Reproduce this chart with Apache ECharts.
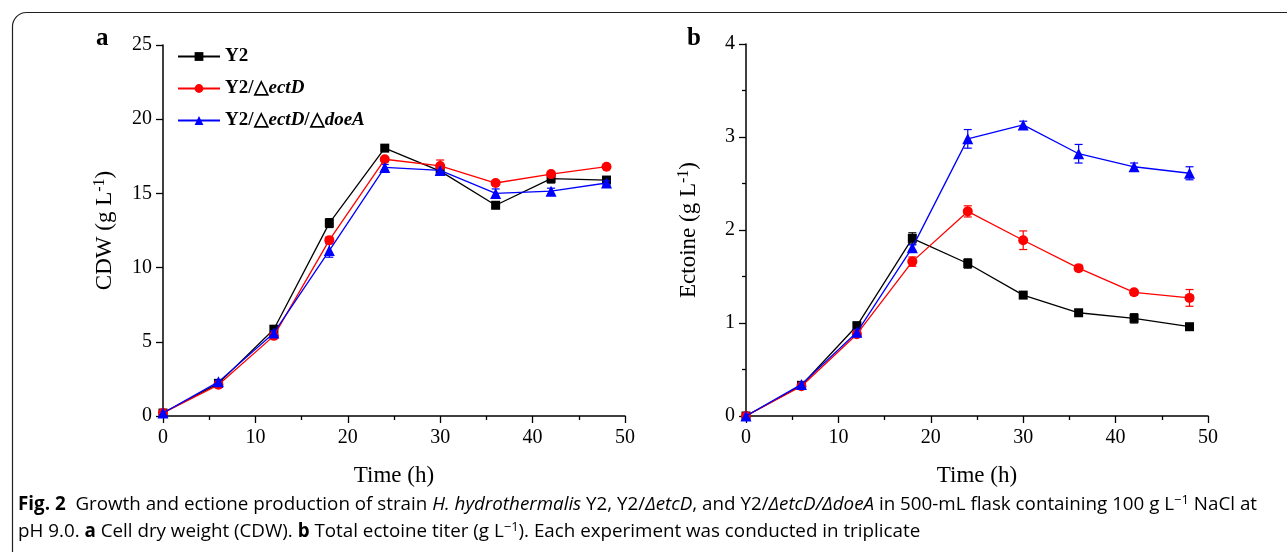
<!DOCTYPE html>
<html>
<head>
<meta charset="utf-8">
<script src="https://cdn.jsdelivr.net/npm/echarts@6/dist/echarts.min.js"></script>
<style>
html,body{margin:0;padding:0;background:#fff;}
#c{width:1287px;height:552px;}
</style>
</head>
<body>
<div id="c"></div>
<script>
// ---- data ----
var time = [0, 6, 12, 18, 24, 30, 36, 42, 48];
var seriesNames = ['Y2', 'Y2/△ectD', 'Y2/△ectD/△doeA'];

var cdwY2   = [0.2, 2.2, 5.85, 13.0, 18.05, 16.5, 14.2, 16.0, 15.9];
var cdwEctD = [0.2, 2.1, 5.4, 11.85, 17.3, 16.85, 15.7, 16.3, 16.8];
var cdwDoeA = [0.2, 2.3, 5.6, 11.15, 16.75, 16.55, 15.0, 15.15, 15.7];
var cdwY2Err   = [0.05, 0.1, 0.15, 0.3, 0.15, 0.2, 0.15, 0.3, 0.15];
var cdwEctDErr = [0.05, 0.1, 0.1, 0.2, 0.15, 0.4, 0.15, 0.15, 0.1];
var cdwDoeAErr = [0.05, 0.1, 0.15, 0.45, 0.2, 0.2, 0.3, 0.2, 0.15];

var ectY2   = [0, 0.33, 0.97, 1.91, 1.64, 1.30, 1.11, 1.05, 0.96];
var ectEctD = [0, 0.32, 0.88, 1.66, 2.20, 1.89, 1.59, 1.33, 1.27];
var ectDoeA = [0, 0.34, 0.90, 1.81, 2.98, 3.13, 2.82, 2.68, 2.61];
var ectY2Err   = [0, 0.02, 0.04, 0.06, 0.05, 0.02, 0.02, 0.05, 0.03];
var ectEctDErr = [0, 0.02, 0.03, 0.05, 0.06, 0.10, 0.03, 0.03, 0.09];
var ectDoeAErr = [0, 0.02, 0.03, 0.03, 0.10, 0.04, 0.10, 0.04, 0.07];

var cdwTicks = [0, 5, 10, 15, 20, 25];
var ectTicks = [0, 1, 2, 3, 4];
var timeTicks = [0, 10, 20, 30, 40, 50];

// ---- helpers ----
var colors = ['#000000', '#ff0000', '#0000ff'];
var symbols = ['rect', 'circle', 'triangle'];
var symSizes = [9, 10, 11];
var serif = '"Liberation Serif", "Times New Roman", serif';

function pairs(xs, ys) { return xs.map(function (x, i) { return [x, ys[i]]; }); }
function errData(xs, ys, es) { return xs.map(function (x, i) { return [x, ys[i] - es[i], ys[i] + es[i]]; }); }

function lineSeries(name, idx, ys, axisIdx) {
  return {
    name: name, type: 'line', xAxisIndex: axisIdx, yAxisIndex: axisIdx,
    data: pairs(time, ys), symbol: symbols[idx], symbolSize: symSizes[idx],
    showAllSymbol: true,
    lineStyle: { color: colors[idx], width: 1.3 },
    itemStyle: { color: colors[idx] },
    z: 3 + idx, animation: false
  };
}
function errSeries(idx, ys, es, axisIdx) {
  return {
    type: 'custom', xAxisIndex: axisIdx, yAxisIndex: axisIdx,
    data: errData(time, ys, es), z: 2 + idx, animation: false, silent: true,
    renderItem: function (params, api) {
      var x = api.value(0), lo = api.value(1), hi = api.value(2);
      var p1 = api.coord([x, lo]), p2 = api.coord([x, hi]);
      var w = 4;
      var st = { stroke: colors[idx], lineWidth: 1.2 };
      return { type: 'group', children: [
        { type: 'line', shape: { x1: p1[0], y1: p1[1], x2: p2[0], y2: p2[1] }, style: st },
        { type: 'line', shape: { x1: p1[0] - w, y1: p1[1], x2: p1[0] + w, y2: p1[1] }, style: st },
        { type: 'line', shape: { x1: p2[0] - w, y1: p2[1], x2: p2[0] + w, y2: p2[1] }, style: st }
      ]};
    }
  };
}

var axisLine = { show: true, onZero: false, lineStyle: { color: '#000', width: 1.5 } };
function xAxis(gi) {
  return {
    type: 'value', gridIndex: gi, min: timeTicks[0], max: timeTicks[timeTicks.length - 1], interval: 10,
    name: 'Time (h)', nameLocation: 'middle', nameGap: 48,
    nameTextStyle: { fontFamily: serif, fontSize: 23, color: '#000' },
    axisLine: axisLine,
    axisTick: { show: true, inside: false, length: 7, lineStyle: { color: '#000', width: 1.3 } },
    minorTick: { show: true, splitNumber: 2, length: 4, lineStyle: { color: '#000', width: 1.3 } },
    axisLabel: { fontFamily: serif, fontSize: 20, color: '#000', margin: 12 },
    splitLine: { show: false }
  };
}
function yAxis(gi, ticks, nm, gap, minor) {
  return {
    type: 'value', gridIndex: gi, min: ticks[0], max: ticks[ticks.length - 1], interval: ticks[1] - ticks[0],
    name: nm, nameLocation: 'middle', nameGap: gap, nameRotate: 90,
    nameTextStyle: {
      fontFamily: serif, fontSize: 23, color: '#000',
      rich: {
        a: { fontFamily: serif, fontSize: 23, color: '#000', lineHeight: 26 },
        s: { fontFamily: serif, fontSize: 16, color: '#000', lineHeight: 26, verticalAlign: 'top' }
      }
    },
    axisLine: axisLine,
    axisTick: { show: true, inside: false, length: 7, lineStyle: { color: '#000', width: 1.3 } },
    minorTick: { show: minor, splitNumber: 2, length: 4, lineStyle: { color: '#000', width: 1.3 } },
    axisLabel: { fontFamily: serif, fontSize: 20, color: '#000', margin: 11 },
    splitLine: { show: false }
  };
}

var chart = echarts.init(document.getElementById('c'), null, { renderer: 'canvas' });

var capFont = '"Open Sans", sans-serif';
var capSize = 18.8;
var captionRich = {
  n: { fontFamily: capFont, fontSize: capSize, color: '#231f20' },
  i: { fontFamily: capFont, fontSize: capSize, fontStyle: 'italic', color: '#231f20' },
  b: { fontFamily: capFont, fontSize: capSize, fontWeight: 'bold', color: '#231f20' },
  sup: { fontFamily: capFont, fontSize: 13, color: '#231f20', verticalAlign: 'top', lineHeight: 22 }
};

chart.setOption({
  backgroundColor: '#fff',
  animation: false,
  grid: [
    { left: 163, top: 45, width: 462, height: 371, containLabel: false },
    { left: 746, top: 44, width: 462, height: 372, containLabel: false }
  ],
  xAxis: [xAxis(0), xAxis(1)],
  yAxis: [
    yAxis(0, cdwTicks, '{a|CDW (g L}{s|-1}{a|)}', 45, false),
    yAxis(1, ectTicks, '{a|Ectoine (g L}{s|-1}{a|)}', 44, true)
  ],
  legend: {
    orient: 'vertical', left: 172, top: 42, itemGap: 13,
    itemWidth: 42, itemHeight: 11,
    data: seriesNames,
    formatter: function (n) {
      if (n === 'Y2') return '{b|Y2}';
      if (n === 'Y2/△ectD') return '{b|Y2/△}{bi|ectD}';
      return '{b|Y2/△}{bi|ectD}{b|/△}{bi|doeA}';
    },
    textStyle: {
      fontFamily: serif, fontSize: 19, fontWeight: 'bold', color: '#000',
      rich: {
        b: { fontFamily: serif, fontSize: 19, fontWeight: 'bold', color: '#000' },
        bi: { fontFamily: serif, fontSize: 19, fontWeight: 'bold', fontStyle: 'italic', color: '#000' }
      }
    }
  },
  graphic: [
    { type: 'rect', left: 10, top: 10, silent: true,
      shape: { x: 0, y: 0, width: 1400, height: 700, r: 14 },
      style: { fill: 'none', stroke: '#231f20', lineWidth: 1.2 } },
    { type: 'text', left: 96, top: 26, style: { text: 'a', font: 'bold 25px "Liberation Serif", serif', fill: '#000' } },
    { type: 'text', left: 687, top: 26, style: { text: 'b', font: 'bold 25px "Liberation Serif", serif', fill: '#000' } },
    { type: 'text', left: 18, top: 494, style: {
      text: '{b|Fig. 2}{n|  Growth and ectione production of strain }{i|H. hydrothermalis}{n| Y2, Y2/}{i|ΔetcD}{n|, and Y2/}{i|ΔetcD/ΔdoeA}{n| in 500-mL flask containing 100 g L}{sup|−1}{n| NaCl at}',
      rich: captionRich } },
    { type: 'text', left: 18, top: 521, style: {
      text: '{n|pH 9.0. }{b|a}{n| Cell dry weight (CDW). }{b|b}{n| Total ectoine titer (g L}{sup|−1}{n|). Each experiment was conducted in triplicate}',
      rich: captionRich } }
  ],
  series: [
    errSeries(0, cdwY2, cdwY2Err, 0),
    errSeries(1, cdwEctD, cdwEctDErr, 0),
    errSeries(2, cdwDoeA, cdwDoeAErr, 0),
    lineSeries(seriesNames[0], 0, cdwY2, 0),
    lineSeries(seriesNames[1], 1, cdwEctD, 0),
    lineSeries(seriesNames[2], 2, cdwDoeA, 0),
    errSeries(0, ectY2, ectY2Err, 1),
    errSeries(1, ectEctD, ectEctDErr, 1),
    errSeries(2, ectDoeA, ectDoeAErr, 1),
    lineSeries(seriesNames[0], 0, ectY2, 1),
    lineSeries(seriesNames[1], 1, ectEctD, 1),
    lineSeries(seriesNames[2], 2, ectDoeA, 1)
  ]
});
</script>
</body>
</html>
